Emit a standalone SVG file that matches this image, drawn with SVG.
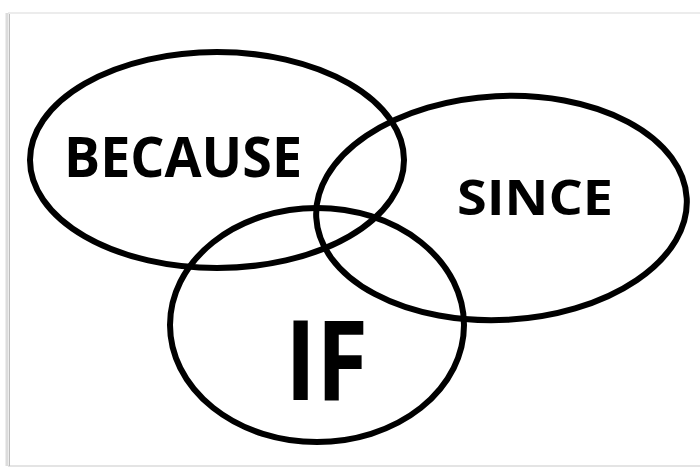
<svg xmlns="http://www.w3.org/2000/svg" width="700" height="468" viewBox="0 0 700 468">
<style>
.ring{fill:none;stroke:#000;stroke-width:6}
.lbl{font-family:"Open Sans","Liberation Sans",sans-serif;font-weight:bold;fill:#000}
</style>
<rect width="700" height="468" fill="#fff"/>
<line x1="8" y1="13" x2="700" y2="13" stroke="#ececec" stroke-width="2"/>
<line x1="8" y1="466" x2="700" y2="466" stroke="#e4e4e4" stroke-width="2"/>
<line x1="7" y1="13" x2="7" y2="466" stroke="#dcdcdc" stroke-width="3"/>
<line x1="9.5" y1="14" x2="9.5" y2="466" stroke="#bdbdbd" stroke-width="1"/>
<g id="because">
<ellipse class="ring" cx="217" cy="160" rx="187" ry="108"/>
<text class="lbl" x="64" y="177" font-size="56" textLength="238" lengthAdjust="spacingAndGlyphs">BECAUSE</text>
</g>
<g id="since">
<ellipse class="ring" cx="501.5" cy="208" rx="185.5" ry="112" transform="rotate(-3 501.5 208)"/>
<text class="lbl" x="457" y="215" font-size="48" textLength="156" lengthAdjust="spacingAndGlyphs">SINCE</text>
</g>
<g id="if">
<ellipse class="ring" cx="317" cy="325" rx="147" ry="117"/>
<text class="lbl" x="285" y="400" font-size="111" textLength="83" lengthAdjust="spacingAndGlyphs">IF</text>
</g>
<g id="connectors"/>
</svg>
